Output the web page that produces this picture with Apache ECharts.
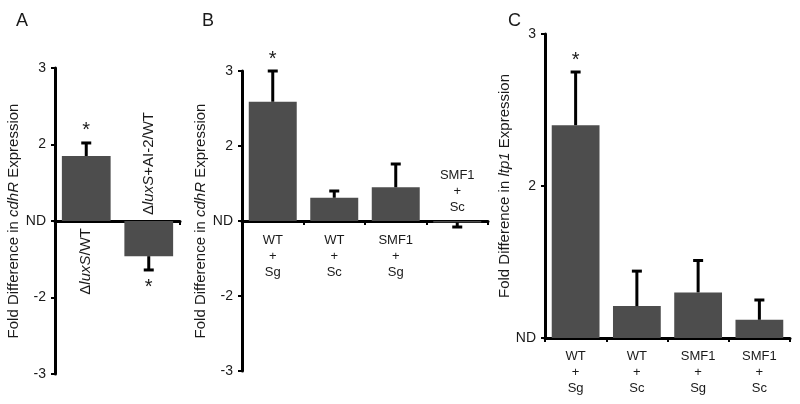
<!DOCTYPE html>
<html>
<head>
<meta charset="utf-8">
<script src="https://cdn.jsdelivr.net/npm/echarts@6/dist/echarts.min.js"></script>
<style>html,body{margin:0;padding:0;background:#fff}#chart{width:800px;height:404px}</style>
</head>
<body>
<div id="chart"></div>
<script>
// ---------- data (fold differences) ----------
const panelA_categories = ['Δ{i|luxS}/WT', 'Δ{i|luxS}+AI-2/WT'];
const panelA_values = [1.85, -1.46];
const panelA_errorEnds = [2.02, -1.64];
const panelA_stars = [1, 1];

const panelB_categories = ['WT\n+\nSg', 'WT\n+\nSc', 'SMF1\n+\nSg', 'SMF1\n+\nSc'];
const panelB_values = [2.59, 1.31, 1.45, -1.02];
const panelB_errorEnds = [3.00, 1.40, 1.76, -1.08];
const panelB_stars = [1, 0, 0, 0];

const panelC_categories = ['WT\n+\nSg', 'WT\n+\nSc', 'SMF1\n+\nSg', 'SMF1\n+\nSc'];
const panelC_values = [2.40, 1.21, 1.30, 1.12];
const panelC_errorEnds = [2.75, 1.44, 1.51, 1.25];
const panelC_stars = [1, 0, 0, 0];

// tick labels: axis value -> label
const panelAB_tickValues = [-2, -1, 0, 1, 2];
const panelAB_tickLabels = ['-3', '-2', 'ND', '2', '3'];
const panelC_tickValues = [1, 2, 3];
const panelC_tickLabels = ['ND', '2', '3'];

const panelLetters = ['A', 'B', 'C'];
const yTitles = ['Fold Difference in {i|cdhR} Expression', 'Fold Difference in {i|cdhR} Expression', 'Fold Difference in {i|ltp1} Expression'];

// fold difference -> plotted offset from "ND" (fold +/-1 sits on ND)
function foldToAxis(f) { return f >= 1 ? f - 1 : (f <= -1 ? f + 1 : 0); }

// ---------- styling ----------
const FONT = "'Liberation Sans', Arial, sans-serif";
const TXT = '#1a1a1a';
const BAR = '#4d4d4d';
const RICH = { i: { fontFamily: FONT, fontSize: 15, fontStyle: 'italic', fill: TXT, color: TXT } };

function tickFormatter(values, labels) {
  return function (v) {
    const i = values.findIndex(t => Math.abs(t - v) < 1e-9);
    return i >= 0 ? labels[i] : '';
  };
}

function yAxis(grid, min, max, values, labels, title, gap) {
  return {
    type: 'value', gridIndex: grid, min: min, max: max, interval: 1,
    splitLine: { show: false },
    axisLine: { show: true, lineStyle: { color: '#000', width: 3 } },
    axisTick: { show: true, length: 4, lineStyle: { color: '#000', width: 2 } },
    axisLabel: { formatter: tickFormatter(values, labels), fontFamily: FONT, fontSize: 14, color: TXT, margin: 9 },
    name: title, nameLocation: 'middle', nameGap: gap, nameRotate: 90,
    nameTextStyle: { fontFamily: FONT, fontSize: 15, color: TXT,
      rich: { i: { fontFamily: FONT, fontSize: 15, fontStyle: 'italic', color: TXT } } }
  };
}

function xAxis(grid, cats, showLabels) {
  return {
    type: 'category', gridIndex: grid, data: cats,
    axisLine: { show: true, onZero: true, lineStyle: { color: '#000', width: 3 } },
    axisTick: { show: true, length: 4, alignWithLabel: false, lineStyle: { color: '#000', width: 2 } },
    axisLabel: showLabels ? { show: true, fontFamily: FONT, fontSize: 13, lineHeight: 16, color: TXT, margin: 10, interval: 0 } : { show: false }
  };
}

function barSeries(idx, vals, conv) {
  return {
    type: 'bar', xAxisIndex: idx, yAxisIndex: idx, barWidth: '78%',
    data: vals.map(conv), itemStyle: { color: BAR }, silent: true
  };
}

function errSeries(idx, vals, ends, stars, conv) {
  return {
    type: 'custom', xAxisIndex: idx, yAxisIndex: idx, silent: true, clip: false, z: 5,
    encode: { x: 0, y: 1 },
    data: vals.map((v, i) => [i, conv(v), conv(ends[i]), stars[i]]),
    renderItem: function (params, api) {
      const x = api.value(0);
      const p0 = api.coord([x, api.value(1)]);
      const p1 = api.coord([x, api.value(2)]);
      const up = p1[1] < p0[1];
      const children = [
        { type: 'line', shape: { x1: p0[0], y1: p0[1], x2: p1[0], y2: p1[1] }, style: { stroke: '#000', lineWidth: 3 } },
        { type: 'line', shape: { x1: p1[0] - 5, y1: p1[1], x2: p1[0] + 5, y2: p1[1] }, style: { stroke: '#000', lineWidth: 3 } }
      ];
      if (api.value(3)) {
        children.push({ type: 'text', x: p1[0], y: up ? p1[1] - 2 : p1[1] + 8,
          style: { text: '*', fontFamily: FONT, fontSize: 20, fill: TXT, align: 'center', verticalAlign: up ? 'bottom' : 'top' } });
      }
      return { type: 'group', children: children };
    }
  };
}

// category text placed at the zero line through the axes (above or below, optionally rotated)
function catTextSeries(idx, cats, specs) {
  return {
    type: 'custom', xAxisIndex: idx, yAxisIndex: idx, silent: true, clip: false, z: 6,
    encode: { x: 0, y: 1 },
    data: cats.map((c, i) => [i, 0]),
    renderItem: function (params, api) {
      const i = params.dataIndex;
      const s = specs[i];
      const p = api.coord([api.value(0), api.value(1)]);
      const below = s.side === 'below';
      if (s.rotate) {
        return { type: 'text', x: p[0], y: below ? p[1] + s.gap : p[1] - s.gap, rotation: Math.PI / 2,
          style: { text: cats[i], fontFamily: FONT, fontSize: s.fontSize, fill: TXT, rich: RICH,
            align: below ? 'right' : 'left', verticalAlign: 'middle' } };
      }
      return { type: 'text', x: p[0], y: below ? p[1] + s.gap : p[1] - s.gap,
        style: { text: cats[i], fontFamily: FONT, fontSize: s.fontSize, lineHeight: 16, fill: TXT,
          align: 'center', verticalAlign: below ? 'top' : 'bottom' } };
    }
  };
}

const chart = echarts.init(document.getElementById('chart'), null, { renderer: 'canvas' });
chart.setOption({
  animation: false,
  backgroundColor: '#fff',
  title: panelLetters.map((t, i) => ({ text: t, left: [11, 197, 503][i], top: 7,
    textStyle: { fontFamily: FONT, fontSize: 18, fontWeight: 'normal', color: TXT } })),
  grid: [
    { left: 55, top: 68, width: 125, height: 306 },
    { left: 242, top: 71, width: 246, height: 300 },
    { left: 545, top: 34, width: 245, height: 304 }
  ],
  xAxis: [
    xAxis(0, panelA_categories, false),
    xAxis(1, panelB_categories, false),
    xAxis(2, panelC_categories, true)
  ],
  yAxis: [
    yAxis(0, -2, 2, panelAB_tickValues, panelAB_tickLabels, yTitles[0], 34),
    yAxis(1, -2, 2, panelAB_tickValues, panelAB_tickLabels, yTitles[1], 34),
    yAxis(2, 1, 3, panelC_tickValues, panelC_tickLabels, yTitles[2], 27)
  ],
  series: [
    barSeries(0, panelA_values, foldToAxis),
    errSeries(0, panelA_values, panelA_errorEnds, panelA_stars, foldToAxis),
    barSeries(1, panelB_values, foldToAxis),
    errSeries(1, panelB_values, panelB_errorEnds, panelB_stars, foldToAxis),
    barSeries(2, panelC_values, v => v),
    errSeries(2, panelC_values, panelC_errorEnds, panelC_stars, v => v),
    catTextSeries(0, panelA_categories, [
      { side: 'below', gap: 7, rotate: true, fontSize: 15 },
      { side: 'above', gap: 6, rotate: true, fontSize: 15 }
    ]),
    catTextSeries(1, panelB_categories, [
      { side: 'below', gap: 11, fontSize: 13 },
      { side: 'below', gap: 11, fontSize: 13 },
      { side: 'below', gap: 11, fontSize: 13 },
      { side: 'above', gap: 6, fontSize: 13 }
    ])
  ]
});
</script>
</body>
</html>
